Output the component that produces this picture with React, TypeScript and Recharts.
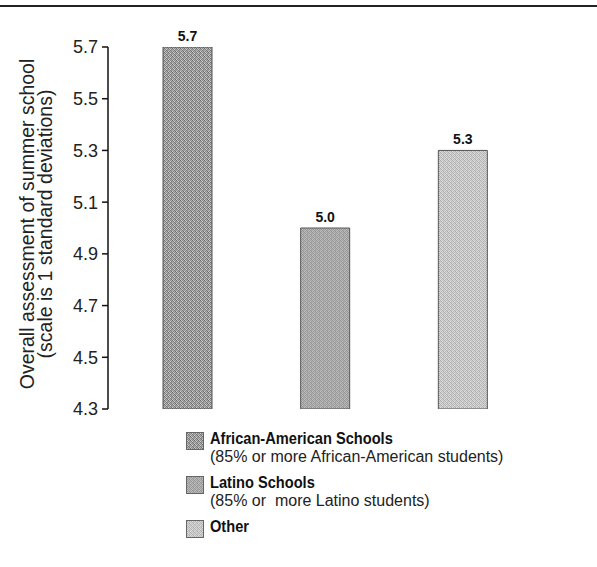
import React from "react";
import { BarChart, Bar, XAxis, YAxis, Cell, LabelList, Label } from "recharts";

const categories = ["African-American Schools", "Latino Schools", "Other"];
const subtitles = ["(85% or more African-American students)", "(85% or  more Latino students)", ""];
const values = [5.7, 5.0, 5.3];
const yTicks = [4.3, 4.5, 4.7, 4.9, 5.1, 5.3, 5.5, 5.7];
const yLabelLines = ["Overall assessment of summer school", "(scale is 1 standard deviations)"];

const data = categories.map((c, i) => ({ name: c, value: values[i] }));

const patternIds = ["texA", "texB", "texC"];
const patternGrays = [
  [0x6c, 0xc4, 0x8a, 0xb2, 0xa6, 0x7c, 0xd2, 0x86, 0x96, 0xba, 0x74, 0xa2, 0xca, 0x88, 0xac, 0x70],
  [0x98, 0xba, 0xa0, 0xb4, 0xb0, 0x92, 0xc2, 0x9c, 0xa4, 0xbe, 0x94, 0xae, 0xc0, 0x9a, 0xb6, 0x90],
  [0xb4, 0xd8, 0xc0, 0xd2, 0xcc, 0xae, 0xe0, 0xba, 0xc4, 0xdc, 0xb0, 0xce, 0xde, 0xb8, 0xd4, 0xaa],
];
const hex = (g: number) => {
  const h = g.toString(16).padStart(2, "0");
  return `#${h}${h}${h}`;
};

const font = "'Liberation Sans', Arial, sans-serif";

const YLabel = () => {
  const cy = 224;
  const xs = [27, 45];
  return (
    <g>
      {yLabelLines.map((t, i) => (
        <text
          key={i}
          x={xs[i]}
          y={cy}
          transform={`rotate(-90, ${xs[i]}, ${cy})`}
          textAnchor="middle"
          dominantBaseline="central"
          fontSize={19.5}
          fontFamily={font}
          fill="#222"
        >
          {t}
        </text>
      ))}
    </g>
  );
};

export default function App() {
  return (
    <div style={{ position: "absolute", left: 0, top: 0, width: 597, height: 567, background: "#fff", fontFamily: font, overflow: "hidden" }}>
      <div style={{ position: "absolute", left: 0, top: 5, width: 597, height: 2, background: "#222" }} />
      <BarChart
        width={597}
        height={567}
        data={data}
        margin={{ top: 47, right: 54, bottom: 158, left: 48 }}
        barCategoryGap={0}
      >
        <defs>
          {patternIds.map((id, pi) => (
            <pattern key={id} id={id} width={4} height={4} patternUnits="userSpaceOnUse">
              {patternGrays[pi].map((g, k) => (
                <rect key={k} x={k % 4} y={Math.floor(k / 4)} width={1} height={1} fill={hex(g)} />
              ))}
            </pattern>
          ))}
        </defs>
        <XAxis
          dataKey="name"
          tick={false}
          tickLine={false}
          axisLine={{ stroke: "#111", strokeWidth: 2 }}
          height={0}
          padding={{ left: 11, right: 11 }}
        />
        <YAxis
          width={60}
          domain={[4.3, 5.7]}
          ticks={yTicks}
          allowDataOverflow
          tickFormatter={(v: number) => v.toFixed(1)}
          tick={{ fontSize: 18, fill: "#222", fontFamily: font }}
          tickLine={{ stroke: "#111", strokeWidth: 1.5 }}
          tickSize={6}
          tickMargin={4}
          axisLine={{ stroke: "#111", strokeWidth: 1.5 }}
        >
          <Label content={YLabel} />
        </YAxis>
        <Bar dataKey="value" barSize={49} isAnimationActive={false} stroke="#555" strokeWidth={1}>
          {data.map((d, i) => (
            <Cell key={d.name} fill={`url(#${patternIds[i]})`} />
          ))}
          <LabelList
            dataKey="value"
            position="top"
            offset={6}
            formatter={(v: any) => Number(v).toFixed(1)}
            style={{ fontSize: 14, fontWeight: "bold", fill: "#111", fontFamily: font }}
          />
        </Bar>
      </BarChart>
      <div style={{ position: "absolute", left: 186, top: 431 }}>
        {categories.map((c, i) => (
          <div key={c} style={{ position: "relative", height: 44 }}>
            <svg width={18} height={18} style={{ position: "absolute", left: 0, top: 1 }}>
              <rect x={0.5} y={0.5} width={17} height={17} fill={`url(#${patternIds[i]})`} stroke="#666" strokeWidth={1} />
            </svg>
            <div
              style={{
                position: "absolute",
                left: 24,
                top: -2,
                fontSize: 17,
                fontWeight: "bold",
                color: "#111",
                whiteSpace: "nowrap",
                transform: "scaleX(0.86)",
                transformOrigin: "left center",
              }}
            >
              {c}
            </div>
            {subtitles[i] ? (
              <div style={{ position: "absolute", left: 24, top: 17, fontSize: 16, color: "#222", whiteSpace: "pre" }}>
                {subtitles[i]}
              </div>
            ) : null}
          </div>
        ))}
      </div>
    </div>
  );
}
